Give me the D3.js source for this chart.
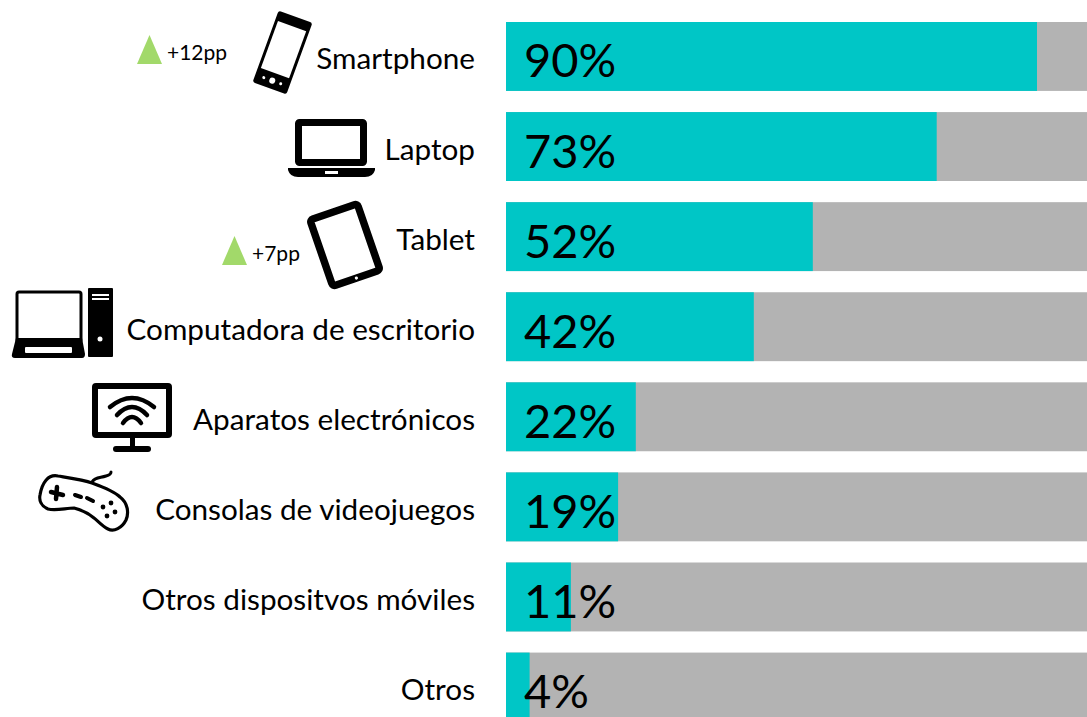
<!DOCTYPE html>
<html><head><meta charset="utf-8">
<script src="https://cdn.jsdelivr.net/npm/d3@7/dist/d3.min.js"></script>
<style>html,body{margin:0;padding:0;background:#fff;overflow:hidden}svg{display:block}text{font-family:Lato,sans-serif;fill:#000}</style>
</head><body><svg id="c" width="1087" height="717"></svg>
<script>
const categories = ["Smartphone","Laptop","Tablet","Computadora de escritorio","Aparatos electrónicos","Consolas de videojuegos","Otros dispositvos móviles","Otros"];
const values = [90,73,52,42,22,19,11,4];
const changes = [{category:"Smartphone",label:"+12pp"},{category:"Tablet",label:"+7pp"}];

const svg = d3.select("#c");
const x = d3.scaleLinear().domain([0,100]).range([506,1096]);
const y = d3.scaleBand().domain(categories).range([22,721.5]).paddingInner(0.235).paddingOuter(0);

const row = svg.selectAll("g.row").data(categories).join("g").attr("class","row");
row.append("rect").attr("x",x(0)).attr("y",d=>y(d)).attr("width",x(100)-x(0)).attr("height",y.bandwidth()).attr("fill","#b3b3b3");
row.append("rect").attr("x",x(0)).attr("y",d=>y(d)).attr("width",(d,i)=>x(values[i])-x(0)).attr("height",y.bandwidth()).attr("fill","#00c6c6");
row.append("text").attr("x",475).attr("y",d=>y(d)+y.bandwidth()/2+13).attr("text-anchor","end").attr("font-size",29.7).text(d=>d);
row.append("text").attr("x",524).attr("y",d=>y(d)+y.bandwidth()/2+21).attr("font-size",47).text((d,i)=>values[i]+"%");

// change markers
const chg = svg.selectAll("g.chg").data(changes).join("g").attr("class","chg");
const triX = {"Smartphone":149.5,"Tablet":234.5}, triY={"Smartphone":64,"Tablet":265};
chg.append("path").attr("d",d=>`M${triX[d.category]-12.5},${triY[d.category]}L${triX[d.category]},${triY[d.category]-29}L${triX[d.category]+12.5},${triY[d.category]}Z`).attr("fill","#a2d96a");
chg.append("text").attr("x",d=>triX[d.category]+17.5).attr("y",d=>triY[d.category]-4).attr("font-size",21).text(d=>d.label);

// icons
const ic = svg.append("g").attr("class","icons");
// smartphone
const ph = ic.append("g").attr("transform","translate(282.5,52.5) rotate(20)");
ph.append("rect").attr("x",-18).attr("y",-38).attr("width",36).attr("height",76).attr("rx",2.5).attr("fill","#000");
ph.append("rect").attr("x",-15).attr("y",-28).attr("width",30).attr("height",50).attr("fill","#fff");
[[-9,1.5],[0,3],[9,1.5]].forEach(([cx,r])=>ph.append("circle").attr("cx",cx).attr("cy",30).attr("r",r).attr("fill","#fff"));
// laptop
const lp = ic.append("g");
lp.append("rect").attr("x",298.5).attr("y",122.5).attr("width",65).attr("height",40).attr("rx",1).attr("fill","none").attr("stroke","#000").attr("stroke-width",7);
lp.append("path").attr("d","M288,168H375V170Q373,177 365,177H298Q290,177 288,170Z").attr("fill","#000");
lp.append("rect").attr("x",325).attr("y",171).attr("width",13).attr("height",3).attr("fill","#fff");
// tablet
const tb = ic.append("g").attr("transform","translate(345,245) rotate(-19)");
tb.append("rect").attr("x",-25).attr("y",-35).attr("width",50).attr("height",70).attr("rx",3).attr("fill","#fff").attr("stroke","#000").attr("stroke-width",7.5);
tb.append("circle").attr("cx",0).attr("cy",35).attr("r",1.6).attr("fill","#fff");
// desktop
const dk = ic.append("g");
dk.append("rect").attr("x",17).attr("y",292).attr("width",64).attr("height",50).attr("rx",2).attr("fill","#fff").attr("stroke","#000").attr("stroke-width",3);
dk.append("path").attr("d","M16,338H82L85,354Q85,358 82,358H15Q11,358 12,354Z").attr("fill","#000");
dk.append("rect").attr("x",25).attr("y",347).attr("width",47).attr("height",6).attr("rx",1).attr("fill","#fff");
dk.append("rect").attr("x",88).attr("y",288).attr("width",25).attr("height",69).attr("rx",1).attr("fill","#000");
dk.append("rect").attr("x",92).attr("y",294).attr("width",17).attr("height",2).attr("fill","#fff");
dk.append("rect").attr("x",92).attr("y",298).attr("width",17).attr("height",2).attr("fill","#fff");
dk.append("circle").attr("cx",100).attr("cy",339).attr("r",2.5).attr("fill","#fff");
// wifi screen
const tv = ic.append("g");
tv.append("rect").attr("x",95).attr("y",386).attr("width",74).attr("height",49).attr("rx",1).attr("fill","none").attr("stroke","#000").attr("stroke-width",6);
tv.append("rect").attr("x",130).attr("y",438).attr("width",5).attr("height",10).attr("fill","#000");
tv.append("line").attr("x1",116).attr("x2",148).attr("y1",449).attr("y2",449).attr("stroke","#000").attr("stroke-width",6).attr("stroke-linecap","round");
["M110,407Q132,389 154,407","M117,415Q132,399 147,415","M123,423Q132,411 141,423"].forEach(p=>tv.append("path").attr("d",p).attr("fill","none").attr("stroke","#000").attr("stroke-width",4.5).attr("stroke-linecap","round"));
// gamepad
const gp = ic.append("g").attr("fill","none").attr("stroke","#000").attr("stroke-linecap","round").attr("stroke-linejoin","round");
gp.append("path").attr("stroke-width",3.2).attr("fill","#fff").attr("d","M40,495C42,483 48,474 58,476C70,478 84,480 92,483C103,487 114,491 120,497C128,503 129,513 126,520C122,528 114,532 108,529C102,526 98,521 94,518C88,513 82,510 74,508C66,508 56,511 48,509C41,506 39,500 40,495Z");
gp.append("path").attr("stroke-width",3).attr("d","M92,482C95,477 100,478 106,476C110,475 111,474 111,472");
gp.append("path").attr("stroke-width",4.5).attr("d","M51,492L63,495M57,487L56,499");
gp.append("path").attr("stroke-width",4).attr("d","M75,495L81,497M87,498L93,501");
[[111,503],[103,507],[115,512],[107,516]].forEach(([cx,cy])=>gp.append("circle").attr("cx",cx).attr("cy",cy).attr("r",2.4).attr("fill","#000").attr("stroke","none"));
</script></body></html>
